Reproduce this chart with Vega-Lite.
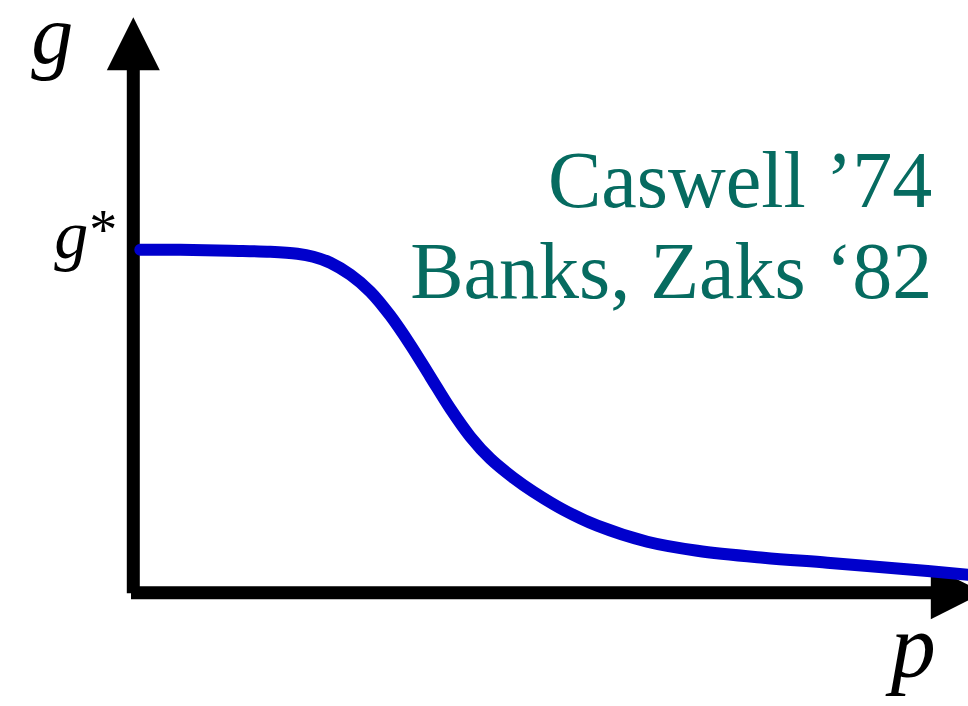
{
  "$schema": "https://vega.github.io/schema/vega-lite/v6.json",
  "width": 968,
  "height": 706,
  "padding": 0,
  "autosize": {"type": "none"},
  "background": "white",
  "config": {"view": {"stroke": null}},
  "datasets": {
    "curve": [
      {"p": 0.07, "g": 3.43}, {"p": 0.47, "g": 3.43}, {"p": 0.97, "g": 3.42}, {"p": 1.37, "g": 3.41},
      {"p": 1.64, "g": 3.39}, {"p": 1.80, "g": 3.36}, {"p": 1.97, "g": 3.30}, {"p": 2.17, "g": 3.18},
      {"p": 2.37, "g": 3.01}, {"p": 2.57, "g": 2.77}, {"p": 2.77, "g": 2.48}, {"p": 2.97, "g": 2.16},
      {"p": 3.17, "g": 1.84}, {"p": 3.37, "g": 1.56}, {"p": 3.57, "g": 1.34}, {"p": 3.80, "g": 1.15},
      {"p": 4.00, "g": 1.01}, {"p": 4.30, "g": 0.83}, {"p": 4.64, "g": 0.67}, {"p": 5.14, "g": 0.51},
      {"p": 5.64, "g": 0.42}, {"p": 6.30, "g": 0.35}, {"p": 6.94, "g": 0.30},
      {"p": 7.67, "g": 0.24}, {"p": 8.35, "g": 0.18}
    ],
    "yaxis": [{"p": 0, "g": -0.006, "p2": 0, "g2": 5.3}],
    "xaxis": [{"p": -0.023, "g": 0, "p2": 8.2, "g2": 0}],
    "yarrow": [{"p": 0, "g": 5.49}],
    "xarrow": [{"p": 8.24, "g": 0}],
    "labels": [
      {"p": -0.81, "g": 5.30, "label": "g", "size": 84},
      {"p": -0.62, "g": 3.35, "label": "g", "size": 68},
      {"p": 7.80, "g": -0.84, "label": "p", "size": 90}
    ],
    "star": [{"p": -0.30, "g": 3.44, "label": "*"}],
    "cite": [
      {"p": 7.99, "g": 3.86, "label": "Caswell ’74"},
      {"p": 7.99, "g": 2.95, "label": "Banks, Zaks ‘82"}
    ]
  },
  "encoding": {
    "x": {"field": "p", "type": "quantitative", "scale": {"domain": [-1.333, 8.347], "nice": false, "zero": false}, "axis": null},
    "y": {"field": "g", "type": "quantitative", "scale": {"domain": [-1.133, 5.927], "nice": false, "zero": false}, "axis": null}
  },
  "layer": [
    {
      "data": {"name": "yaxis"},
      "mark": {"type": "rule", "stroke": "black", "strokeWidth": 13, "strokeCap": "butt"},
      "encoding": {"x2": {"field": "p2"}, "y2": {"field": "g2"}}
    },
    {
      "data": {"name": "xaxis"},
      "mark": {"type": "rule", "stroke": "black", "strokeWidth": 13, "strokeCap": "butt"},
      "encoding": {"x2": {"field": "p2"}, "y2": {"field": "g2"}}
    },
    {
      "data": {"name": "yarrow"},
      "mark": {"type": "point", "shape": "M-1,1L1,1L0,-1Z", "size": 2809, "filled": true, "fill": "black", "stroke": null, "opacity": 1}
    },
    {
      "data": {"name": "xarrow"},
      "mark": {"type": "point", "shape": "M-1,-1L-1,1L1,0Z", "size": 2809, "filled": true, "fill": "black", "stroke": null, "opacity": 1}
    },
    {
      "data": {"name": "curve"},
      "mark": {"type": "line", "stroke": "#0000cc", "strokeWidth": 12, "strokeCap": "round", "strokeJoin": "round", "interpolate": "catmull-rom"}
    },
    {
      "data": {"name": "labels"},
      "mark": {"type": "text", "font": "Liberation Serif", "fontStyle": "italic", "align": "center", "baseline": "alphabetic", "color": "black"},
      "encoding": {"text": {"field": "label"}, "size": {"field": "size", "type": "quantitative", "scale": null}}
    },
    {
      "data": {"name": "star"},
      "mark": {"type": "text", "font": "Liberation Serif", "fontSize": 56, "align": "center", "baseline": "alphabetic", "color": "black"},
      "encoding": {"text": {"field": "label"}}
    },
    {
      "data": {"name": "cite"},
      "mark": {"type": "text", "font": "Liberation Serif", "fontSize": 80, "align": "right", "baseline": "alphabetic", "color": "#066b60"},
      "encoding": {"text": {"field": "label"}}
    }
  ]
}
